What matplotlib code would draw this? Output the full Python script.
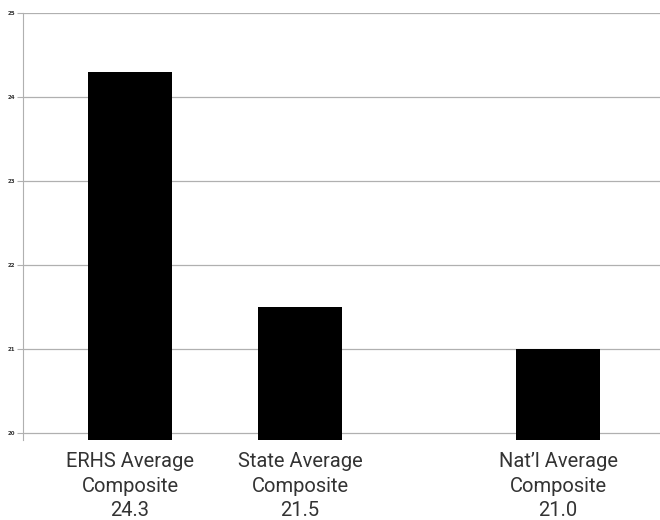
import matplotlib
matplotlib.use("Agg")
import matplotlib.pyplot as plt

labels = ["ERHS Average\nComposite\n24.3", "State Average\nComposite\n21.5", "Nat\u2019l Average\nComposite\n21.0"]
scores = [24.3, 21.5, 21.0]
yticks = [20, 21, 22, 23, 24, 25]

# bars in the original are not evenly spaced
xpos = [0, 1, 2.52]

fig = plt.figure(figsize=(6.6, 5.2), dpi=100)
ax = fig.add_axes([0.035, 0.154, 0.965, 0.821])

ax.bar(xpos, scores, width=0.494, color="black", bottom=0, zorder=3)
ax.set_ylim(19.92, 25)
ax.set_xlim(-0.63, 3.12)

ax.set_yticks(yticks)
ax.set_yticklabels([str(t) for t in yticks], fontsize=4, fontweight="bold", color="#333333")
ax.yaxis.grid(True, color="#b0b0b0", linewidth=0.9, zorder=0)
ax.tick_params(axis="y", length=4, color="#b0b0b0", pad=2)

ax.set_xticks(xpos)
ax.set_xticklabels(labels, fontsize=14.5, color="#333333", family="Roboto", linespacing=1.35)
ax.tick_params(axis="x", length=0, pad=9)

for s in ["top", "right", "bottom"]:
    ax.spines[s].set_visible(False)
ax.spines["left"].set_color("#b0b0b0")

fig.savefig("out.png", dpi=100)
